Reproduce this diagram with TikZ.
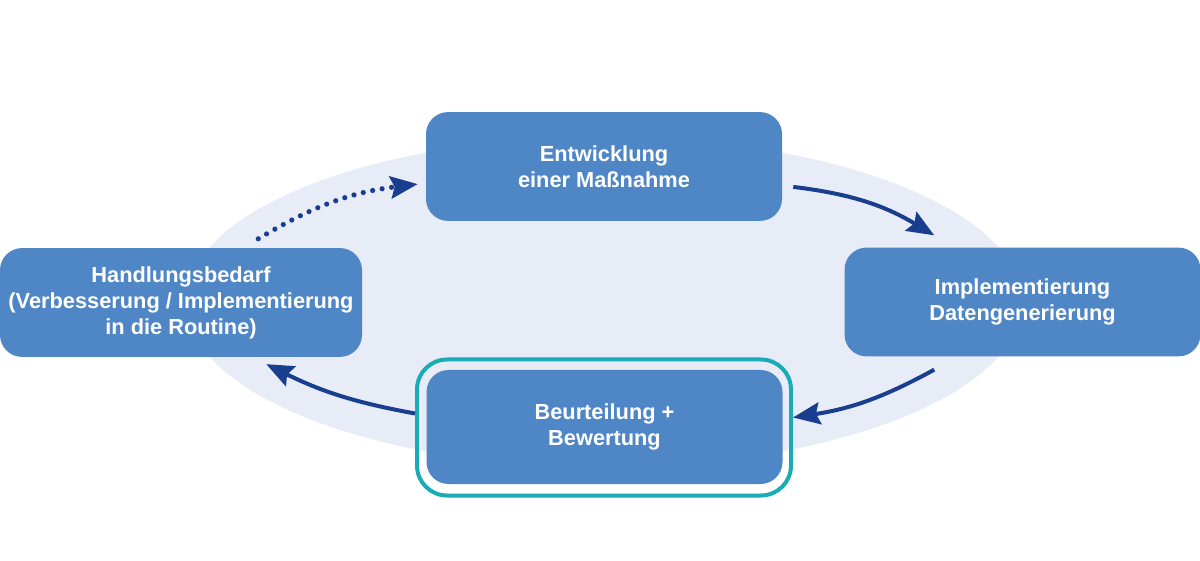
\documentclass[tikz,border=0pt]{standalone}
\usepackage{fontspec}
\setmainfont{Liberation Sans}
\usetikzlibrary{arrows.meta}
\definecolor{boxblue}{RGB}{79,134,198}
\definecolor{ringblue}{RGB}{232,236,246}
\definecolor{arrowblue}{RGB}{26,62,143}
\definecolor{frameteal}{RGB}{26,172,180}
\tikzset{
  stage/.style={rectangle, rounded corners=0.55cm, fill=boxblue, text=white,
                font=\bfseries\fontsize{15.5}{18.5}\selectfont, align=center,
                minimum width=8.9cm, minimum height=2.72cm, inner sep=0pt},
  flow/.style={arrowblue, line width=0.1cm, -{Stealth[length=0.68cm,width=0.55cm,inset=0.1cm]}},
  dotflow/.style={arrowblue, line width=0.13cm, line cap=round,
                  dash pattern=on 0pt off 0.24cm,
                  -{Stealth[length=0.68cm,width=0.55cm,inset=0.1cm,line cap=butt]}}
}
\begin{document}
\begin{tikzpicture}
    \useasboundingbox (0, 0) rectangle (30, 14);
    \fill[ringblue] (15.1, 6.45) ellipse [x radius=10.45, y radius=4.125];
    \node[stage] (entw) at (15.1, 9.8375) {Entwicklung\\einer Maßnahme};
    \node[stage, minimum width=9.05cm] (handl) at (4.525, 6.4375) {Handlungsbedarf\\(Verbesserung / Implementierung\\in die Routine)};
    \node[stage] (impl) at (25.5625, 6.45) {Implementierung\\Datengenerierung};
    \node[stage, minimum height=2.85cm] (beurt) at (15.1125, 3.325) {Beurteilung +\\Bewertung};
    \node[draw=frameteal, line width=0.1cm, rounded corners=0.75cm,
          minimum width=9.35cm, minimum height=3.4cm] (frame) at (15.1, 3.3125) {};
    \draw[flow] ([xshift=0.275cm, yshift=-0.51cm]entw.east)
          to[bend left=12] ([xshift=2.25cm, yshift=0.3cm]impl.north west);
    \draw[flow] ([xshift=2.25cm, yshift=-0.325cm]impl.south west)
          to[bend left=10] ([yshift=0.25cm]frame.east);
    \draw[flow] ([yshift=0.35cm]frame.west)
          to[bend left=8] ([xshift=-2.4cm, yshift=-0.175cm]handl.south east);
    \draw[dotflow] ([xshift=-2.6cm, yshift=0.225cm]handl.north east)
          to[bend left=12] ([xshift=-0.2cm, yshift=-0.44cm]entw.west);
\end{tikzpicture}
\end{document}
